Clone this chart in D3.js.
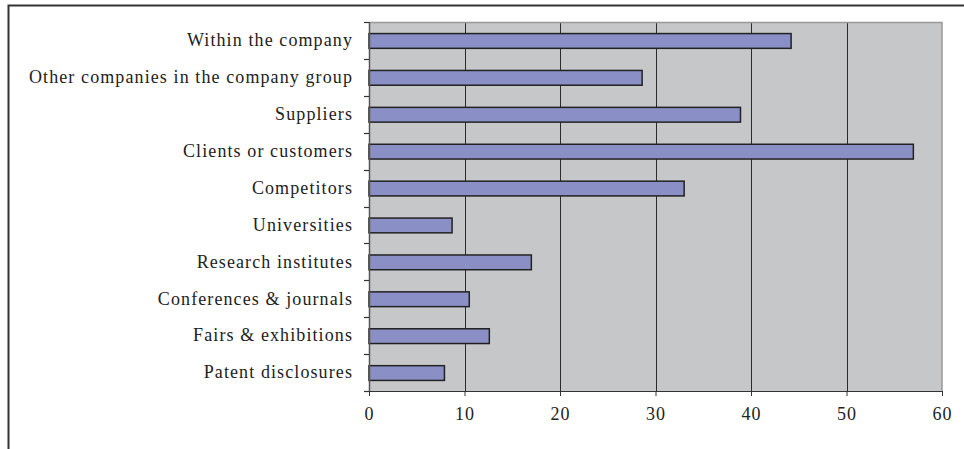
<!DOCTYPE html>
<html>
<head>
<meta charset="utf-8">
<script src="https://cdn.jsdelivr.net/npm/d3@7"></script>
<style>
  html, body { margin: 0; padding: 0; background: #fff; }
  svg { display: block; }
  text { font-family: "Liberation Serif", "Times New Roman", serif; fill: #222; }
</style>
</head>
<body>
<svg id="chart" width="964" height="449"></svg>
<script>
// Sources of information for innovation (share of firms, %)
const categories = [
  "Within the company",
  "Other companies in the company group",
  "Suppliers",
  "Clients or customers",
  "Competitors",
  "Universities",
  "Research institutes",
  "Conferences & journals",
  "Fairs & exhibitions",
  "Patent disclosures"
];
const values = [44.2, 28.6, 38.9, 57.0, 33.0, 8.7, 17.0, 10.5, 12.6, 7.9];
const xTicks = [0, 10, 20, 30, 40, 50, 60];

const svg = d3.select("#chart");
const W = 964, H = 449;
const plot = { left: 369, right: 942, top: 22, bottom: 391 };

// outer frame (top and left edges)
svg.append("path")
  .attr("d", `M8.5,${H} L8.5,5.5 L${W},5.5`)
  .attr("fill", "none")
  .attr("stroke", "#333")
  .attr("stroke-width", 2);

const x = d3.scaleLinear().domain([0, 60]).range([plot.left, plot.right]);
const y = d3.scaleBand().domain(categories).range([plot.top, plot.bottom]).padding(0);

// plot background
svg.append("rect")
  .attr("x", plot.left).attr("y", plot.top)
  .attr("width", plot.right - plot.left).attr("height", plot.bottom - plot.top)
  .attr("fill", "#c6c7c9");

// vertical gridlines
svg.append("g")
  .selectAll("line")
  .data(xTicks.filter(t => t > 0 && t < 60))
  .join("line")
  .attr("x1", d => Math.round(x(d)) + 0.5).attr("x2", d => Math.round(x(d)) + 0.5)
  .attr("y1", plot.top).attr("y2", plot.bottom)
  .attr("stroke", "#2a2a2a").attr("stroke-width", 1);

// plot border top and right
svg.append("path")
  .attr("d", `M${plot.left},${plot.top + 0.5} L${plot.right},${plot.top + 0.5} L${plot.right},${plot.bottom}`)
  .attr("fill", "none")
  .attr("stroke", "#999")
  .attr("stroke-width", 1.5);

// bars
const barH = y.bandwidth() * 0.4;
svg.append("g")
  .selectAll("rect")
  .data(categories.map((c, i) => ({ c, v: values[i] })))
  .join("rect")
  .attr("x", x(0))
  .attr("y", d => y(d.c) + y.bandwidth() / 2 - barH / 2 + 0.5)
  .attr("width", d => x(d.v) - x(0))
  .attr("height", barH)
  .attr("fill", "#8a8fc6")
  .attr("stroke", "#222")
  .attr("stroke-width", 1.5);

// bottom axis
const xAxis = svg.append("g")
  .attr("transform", `translate(0,${plot.bottom})`)
  .call(d3.axisBottom(x).tickValues(xTicks).tickSize(5).tickPadding(11).tickSizeOuter(0));
xAxis.select(".domain").attr("stroke", "#333").attr("stroke-width", 1.2);
xAxis.selectAll(".tick line").attr("stroke", "#333");
xAxis.selectAll("text")
  .style("font-size", "18px")
  .style("letter-spacing", "1px")
  .attr("fill", "#222");

// left axis: category labels at band centres
const yAxis = svg.append("g")
  .attr("transform", `translate(${plot.left},0)`)
  .call(d3.axisLeft(y).tickSize(0).tickPadding(16));
yAxis.select(".domain").remove();
yAxis.selectAll("text")
  .style("font-size", "18px")
  .style("letter-spacing", "1.1px")
  .attr("fill", "#222");

// left axis line with ticks at band boundaries
const bounds = categories.map(c => y(c)).concat([plot.bottom]);
svg.append("line")
  .attr("x1", plot.left + 0.5).attr("x2", plot.left + 0.5)
  .attr("y1", plot.top).attr("y2", plot.bottom)
  .attr("stroke", "#555").attr("stroke-width", 1.5);
svg.append("g")
  .selectAll("line")
  .data(bounds)
  .join("line")
  .attr("x1", plot.left - 5).attr("x2", plot.left)
  .attr("y1", d => Math.round(d) + 0.5).attr("y2", d => Math.round(d) + 0.5)
  .attr("stroke", "#333").attr("stroke-width", 1.2);
</script>
</body>
</html>
